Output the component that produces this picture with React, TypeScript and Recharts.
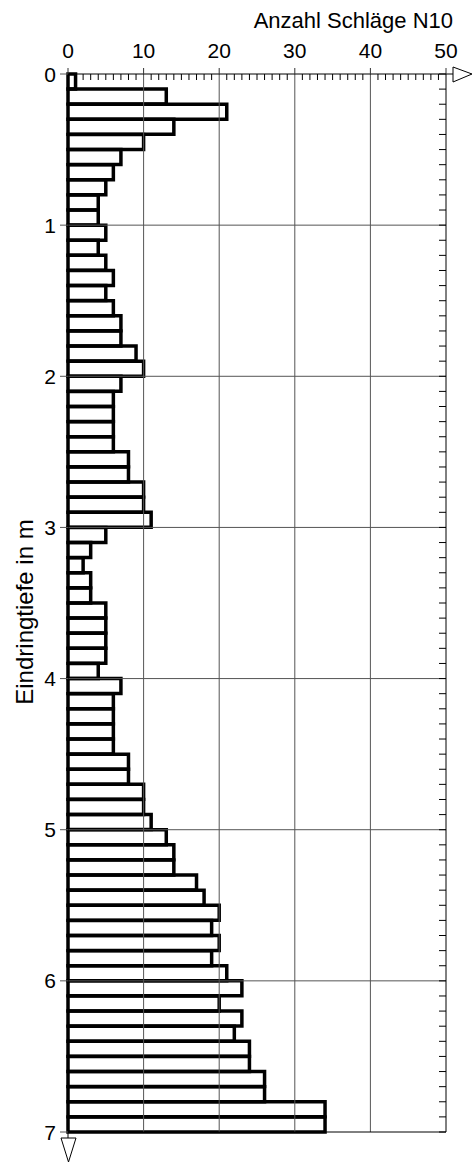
import { BarChart, Bar, XAxis, YAxis, ReferenceLine } from "recharts";

// Rammsondierung: Anzahl Schläge je 10 cm, von 0,0 m bis 7,0 m
const depths = Array.from({ length: 70 }, (_, i) => (i / 10).toFixed(1));
const blows = [
  1, 13, 21, 14, 10, 7, 6, 5, 4, 4,
  5, 4, 5, 6, 5, 6, 7, 7, 9, 10,
  7, 6, 6, 6, 6, 8, 8, 10, 10, 11,
  5, 3, 2, 3, 3, 5, 5, 5, 5, 4,
  7, 6, 6, 6, 6, 8, 8, 10, 10, 11,
  13, 14, 14, 17, 18, 20, 19, 20, 19, 21,
  23, 20, 23, 22, 24, 24, 26, 26, 34, 34,
];
const blowLabels = [0, 10, 20, 30, 40, 50];
const blowTicks = Array.from({ length: 51 }, (_, i) => i);
const meterLines = ["1.0", "2.0", "3.0", "4.0", "5.0", "6.0"];

const data = depths.map((d, i) => ({ depth: d, n: blows[i] }));

const FONT = "'Liberation Sans', Arial, sans-serif";
const LAST = depths.length - 1;

// oben: Beschriftung alle 10, kleine Striche je Schlag
const TopTick = ({ x, y, payload }: any) => {
  if (blowLabels.includes(payload.value)) {
    return (
      <g>
        <line x1={x} y1={y - 6} x2={x} y2={y} stroke="#333" />
        <text x={x} y={y - 16} textAnchor="middle" fontSize={21} fontFamily={FONT} fill="#000">
          {payload.value}
        </text>
      </g>
    );
  }
  return <line x1={x} y1={y} x2={x} y2={y + 6} stroke="#000" />;
};

// unten: nur kleine Striche nach innen
const BottomTick = ({ x, y, payload }: any) =>
  blowLabels.includes(payload.value) ? <g /> : (
    <line x1={x} y1={y} x2={x} y2={y - 6} stroke="#000" />
  );

// linke Achse: Beschriftung an jeder vollen Meter-Grenze
const DepthTick = (props: any) => {
  const { x, y, payload } = props;
  const half = payload.offset ?? 7.55;
  const idx = payload.index;
  const marks: { yy: number; label: number }[] = [];
  if (idx % 10 === 0) marks.push({ yy: y - half, label: idx / 10 });
  if (idx === LAST) marks.push({ yy: y + half, label: (idx + 1) / 10 });
  return (
    <g>
      {marks.map((m, k) => (
        <g key={k}>
          <line x1={x - 8} y1={m.yy} x2={x} y2={m.yy} stroke="#555" />
          <text
            x={x - 12}
            y={m.yy + 7.5}
            textAnchor="end"
            fontSize={21}
            fontFamily={FONT}
            fill="#000"
          >
            {m.label}
          </text>
        </g>
      ))}
    </g>
  );
};

// rechte Achse: kleine Striche alle 10 cm
const MinorTick = (props: any) => {
  const { x, y, payload } = props;
  const half = payload.offset ?? 7.55;
  return (
    <g>
      <line x1={x - 7} y1={y - half} x2={x} y2={y - half} stroke="#000" />
      {payload.index === LAST && (
        <line x1={x - 7} y1={y + half} x2={x} y2={y + half} stroke="#000" />
      )}
    </g>
  );
};

export default function App() {
  return (
    <div style={{ position: "absolute", left: 0, top: 0, fontFamily: FONT }}>
      <BarChart
        width={472}
        height={1166}
        data={data}
        layout="vertical"
        barCategoryGap={0}
        barGap={0}
        margin={{ top: 44, right: 26, bottom: 33, left: 0 }}
      >
        {meterLines.map((m) => (
          <ReferenceLine
            key={m}
            xAxisId="main"
            yAxisId="cat"
            y={m}
            position="start"
            stroke="#555"
            strokeWidth={1}
          />
        ))}
        {blowLabels.slice(1, -1).map((v) => (
          <ReferenceLine key={v} xAxisId="main" yAxisId="cat" x={v} stroke="#555" strokeWidth={1} />
        ))}
        <XAxis
          xAxisId="main"
          orientation="top"
          type="number"
          domain={[0, 50]}
          ticks={blowTicks}
          interval={0}
          height={30}
          tickSize={0}
          tickMargin={0}
          tickLine={false}
          tick={<TopTick />}
          axisLine={{ stroke: "#000" }}
        />
        <XAxis
          xAxisId="bottom"
          orientation="bottom"
          type="number"
          domain={[0, 50]}
          ticks={blowTicks}
          interval={0}
          height={1}
          tickSize={0}
          tickMargin={0}
          tickLine={false}
          tick={<BottomTick />}
          axisLine={{ stroke: "#000" }}
        />
        <YAxis
          yAxisId="cat"
          type="category"
          dataKey="depth"
          width={68}
          interval={0}
          tickSize={0}
          tickMargin={0}
          tickLine={false}
          tick={<DepthTick />}
          axisLine={{ stroke: "#000" }}
        />
        <YAxis
          yAxisId="catR"
          orientation="right"
          type="category"
          dataKey="depth"
          mirror
          width={1}
          interval={0}
          tickSize={0}
          tickMargin={0}
          tickLine={false}
          tick={<MinorTick />}
          axisLine={{ stroke: "#000" }}
        />
        <Bar
          dataKey="n"
          xAxisId="main"
          yAxisId="cat"
          fill="none"
          stroke="#000"
          strokeWidth={3.5}
          isAnimationActive={false}
        />
        <text x={453} y={28} textAnchor="end" fontSize={22} fontFamily={FONT} fill="#000">
          Anzahl Schläge N10
        </text>
        <text
          x={33}
          y={612}
          textAnchor="middle"
          fontSize={24}
          fontFamily={FONT}
          fill="#000"
          transform="rotate(-90 33 612)"
        >
          Eindringtiefe in m
        </text>
        <line x1={446} y1={74} x2={453} y2={74} stroke="#000" />
        <polygon points="453,67 472,74 453,82" fill="#fff" stroke="#000" />
        <line x1={68} y1={1132} x2={68} y2={1138} stroke="#000" />
        <polygon points="61,1138 76,1138 68.5,1162" fill="#fff" stroke="#000" />
      </BarChart>
    </div>
  );
}
